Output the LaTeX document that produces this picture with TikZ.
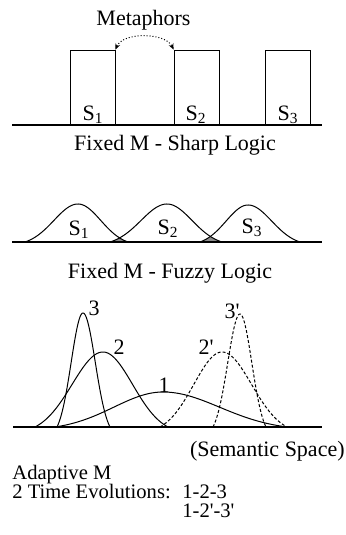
\documentclass[tikz,border=0pt]{standalone}
\usepackage{fontspec}
\setmainfont{Liberation Serif}
\usetikzlibrary{arrows.meta,calc}
\tikzset{
  every picture/.style = {
    x=0.5pt,
    y=-0.5pt,
    font=\fontsize{11}{13}\selectfont
  }
}
\newcommand{\tightlines}{\fontsize{10.3}{9.5}\selectfont\lineskiplimit=-20pt\relax\lineskip=0pt\relax}
\tikzset{
  setbox/.style={
    shape = rectangle,
    draw,
    line width = 0.4pt,
    inner sep = 0,
    minimum width = 22.5pt,
    minimum height = 37.5pt
  },
  axis/.style={
    line width = 1.3pt,
  },
  fuzzy/.style={
    line width = 0.5pt,
    line join = round
  },
  fuzzyB/.style={
    fuzzy,
    dash pattern = on 1.5pt off 1pt
  },
  overlap/.style={
    fill = black!45
  },
  metaphor/.style={
    densely dotted,
    line width = 0.5pt,
    {Stealth[length=3pt,width=2.5pt]}-{Stealth[length=3pt,width=2.5pt]}
  },
  lbl/.style={
    inner sep = 0
  },
  tight/.style={
    inner sep = 0,
    align = left,
    font = \tightlines
  }
}
% bell between the feet #1 and #3, top over #2, height #4 above the line y=#5
\newcommand{\bell}[5]{plot[domain=#1:#3,samples=90,smooth] (\x,{#5-#4*(exp(-0.5*(2.2*(\x-#2)/((\x<#2)?(#2-#1):(#3-#2)))^2)-0.0889)/0.9111})}
\newcommand{\pr}{\textquotesingle}

\begin{document}
\begin{tikzpicture}
        \useasboundingbox (0,0) rectangle (346,535);
        % sharp logic
        \node[lbl, anchor=base] (meta) at (143.5,26) {Metaphors};
        \node[setbox] (box1) at (92.5,87.5) {};
        \node[setbox] (box2) at (196.5,87.5) {};
        \node[setbox] (box3) at (287.5,87.5) {};
        \draw[axis] (12,125) -- (322,125);
        \node[lbl] (s1) at (93,115) {S\textsubscript{1}};
        \node[lbl] (s2) at (196,115) {S\textsubscript{2}};
        \node[lbl] (s3) at (288,115) {S\textsubscript{3}};
        \draw[metaphor] (box1.north east) .. controls +(8,-18) and +(-8,-17) .. (box2.north west);
        \node[lbl, anchor=base] (sharp) at (175,150) {Fixed M - Sharp Logic};
        % fuzzy logic
        \begin{scope}
          \clip \bell{25}{78}{128}{38}{242} -- cycle;
          \fill[overlap] \bell{110}{167}{222}{38}{242} -- cycle;
        \end{scope}
        \begin{scope}
          \clip \bell{110}{167}{222}{38}{242} -- cycle;
          \fill[overlap] \bell{200}{248}{300}{37}{242} -- cycle;
        \end{scope}
        \draw[fuzzy] \bell{25}{78}{128}{38}{242};
        \draw[fuzzy] \bell{110}{167}{222}{38}{242};
        \draw[fuzzy] \bell{200}{248}{300}{37}{242};
        \draw[axis] (12,242) -- (322,242);
        \node[lbl] (f1) at (79,230) {S\textsubscript{1}};
        \node[lbl] (f2) at (168,229) {S\textsubscript{2}};
        \node[lbl] (f3) at (252,228) {S\textsubscript{3}};
        \node[lbl, anchor=base] (fuzzy) at (170,278) {Fixed M - Fuzzy Logic};
        % adaptive
        \draw[fuzzy] \bell{55}{163}{287}{35}{427};
        \draw[fuzzy] \bell{35}{103}{168}{75}{427};
        \draw[fuzzy] \bell{57}{83}{110}{114}{427};
        \draw[fuzzyB] \bell{160}{222}{287}{75}{427};
        \draw[fuzzyB] \bell{213}{240}{266}{113}{427};
        \draw[axis] (13,427) -- (322,427);
        \node[lbl] (a1) at (164,385) {1};
        \node[lbl] (a2) at (119,347) {2};
        \node[lbl] (a3) at (94,308) {3};
        \node[lbl] (b2) at (206,347) {2\pr};
        \node[lbl] (b3) at (232,311) {3\pr};
        \node[lbl, anchor=base east] (space) at (345,456) {(Semantic Space)};
        \node[tight, anchor=north west] (adapt) at (12,465) {%
          Adaptive M\\
          \makebox[85pt][l]{2 Time Evolutions:}1-2-3\\
          \hspace*{85pt}1-2\pr-3\pr};
\end{tikzpicture}
\end{document}
